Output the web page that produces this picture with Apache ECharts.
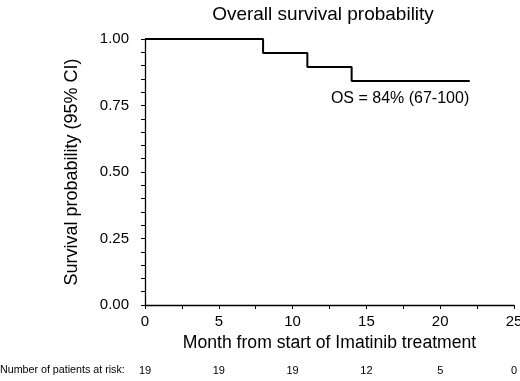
<!DOCTYPE html>
<html>
<head>
<meta charset="utf-8">
<script src="https://cdn.jsdelivr.net/npm/echarts@6/dist/echarts.min.js"></script>
<style>
html, body { margin: 0; padding: 0; background: #fff; }
#chart { width: 520px; height: 381px; }
</style>
</head>
<body>
<div id="chart"></div>
<script>
// Kaplan-Meier steps (month, survival)
const months = [0, 8, 11, 14, 22];
const survival = [1.0, 0.947, 0.895, 0.842, 0.842];
// number at risk at the x ticks
const riskMonths = [0, 5, 10, 15, 20, 25];
const riskCounts = [19, 19, 19, 12, 5, 0];
const yTicks = ["0.00", "0.25", "0.50", "0.75", "1.00"];

const chart = echarts.init(document.getElementById("chart"));
const font = "Liberation Sans, Arial, sans-serif";

const option = {
	animation: false,
	title: {
		text: "Overall survival probability",
		left: 318,
		textAlign: "center",
		top: 0,
		textStyle: { fontFamily: font, fontSize: 19, fontWeight: "normal", color: "#000" }
	},
	grid: { left: 145, right: 6, top: 39, bottom: 76, outerBoundsMode: "none", containLabel: false },
	xAxis: [{
		type: "value",
		min: 0,
		max: 25,
		interval: 5,
		name: "Month from start of Imatinib treatment",
		nameLocation: "middle",
		nameGap: 28,
		nameTextStyle: { fontFamily: font, fontSize: 17.6, color: "#000" },
		axisLine: { onZero: false, lineStyle: { color: "#000", width: 1.3 } },
		axisTick: { length: 4, lineStyle: { color: "#000" } },
		minorTick: { show: true, splitNumber: 2, length: 4, lineStyle: { color: "#000" } },
		axisLabel: { fontFamily: font, fontSize: 15, color: "#000", margin: 9 },
		splitLine: { show: false }
	}, {
		type: "value",
		position: "bottom",
		offset: 56,
		min: 0,
		max: 25,
		interval: 5,
		axisLine: { show: false },
		axisTick: { show: false },
		splitLine: { show: false },
		axisLabel: {
			fontFamily: font, fontSize: 11, color: "#000", margin: 4,
			formatter: v => {
				const i = riskMonths.indexOf(v);
				return i >= 0 ? String(riskCounts[i]) : "";
			}
		}
	}],
	yAxis: {
		type: "value",
		min: 0,
		max: 1,
		interval: 0.25,
		name: "Survival probability (95% CI)",
		nameLocation: "middle",
		nameGap: 64,
		nameTextStyle: { fontFamily: font, fontSize: 18, color: "#000" },
		axisLine: { show: true, lineStyle: { color: "#000", width: 1.3 } },
		axisTick: { show: true, length: 4, lineStyle: { color: "#000" } },
		minorTick: { show: true, splitNumber: 5, length: 4, lineStyle: { color: "#000" } },
		axisLabel: {
			fontFamily: font, fontSize: 15, color: "#000", margin: 16,
			formatter: v => yTicks[Math.round(v * 4)]
		},
		splitLine: { show: false }
	},
	graphic: [{
		type: "text",
		left: 0,
		top: 365,
		style: { text: "Number of patients at risk:", font: "10.7px " + font, fill: "#000" }
	}],
	series: [{
		type: "line",
		step: "end",
		symbol: "none",
		lineStyle: { color: "#000", width: 2 },
		data: months.map((m, i) => [m, survival[i]]),
		markPoint: {
			symbol: "rect",
			symbolSize: 1,
			itemStyle: { color: "rgba(0,0,0,0)" },
			label: {
				show: true,
				position: "insideRight",
				formatter: "OS = 84% (67-100)",
				fontFamily: font,
				fontSize: 16,
				color: "#000",
				align: "right",
				verticalAlign: "middle",
				offset: [4, 18]
			},
			data: [{ coord: [months[4], survival[4]] }]
		}
	}]
};

chart.setOption(option);
window.onresize = chart.resize;
</script>
</body>
</html>
